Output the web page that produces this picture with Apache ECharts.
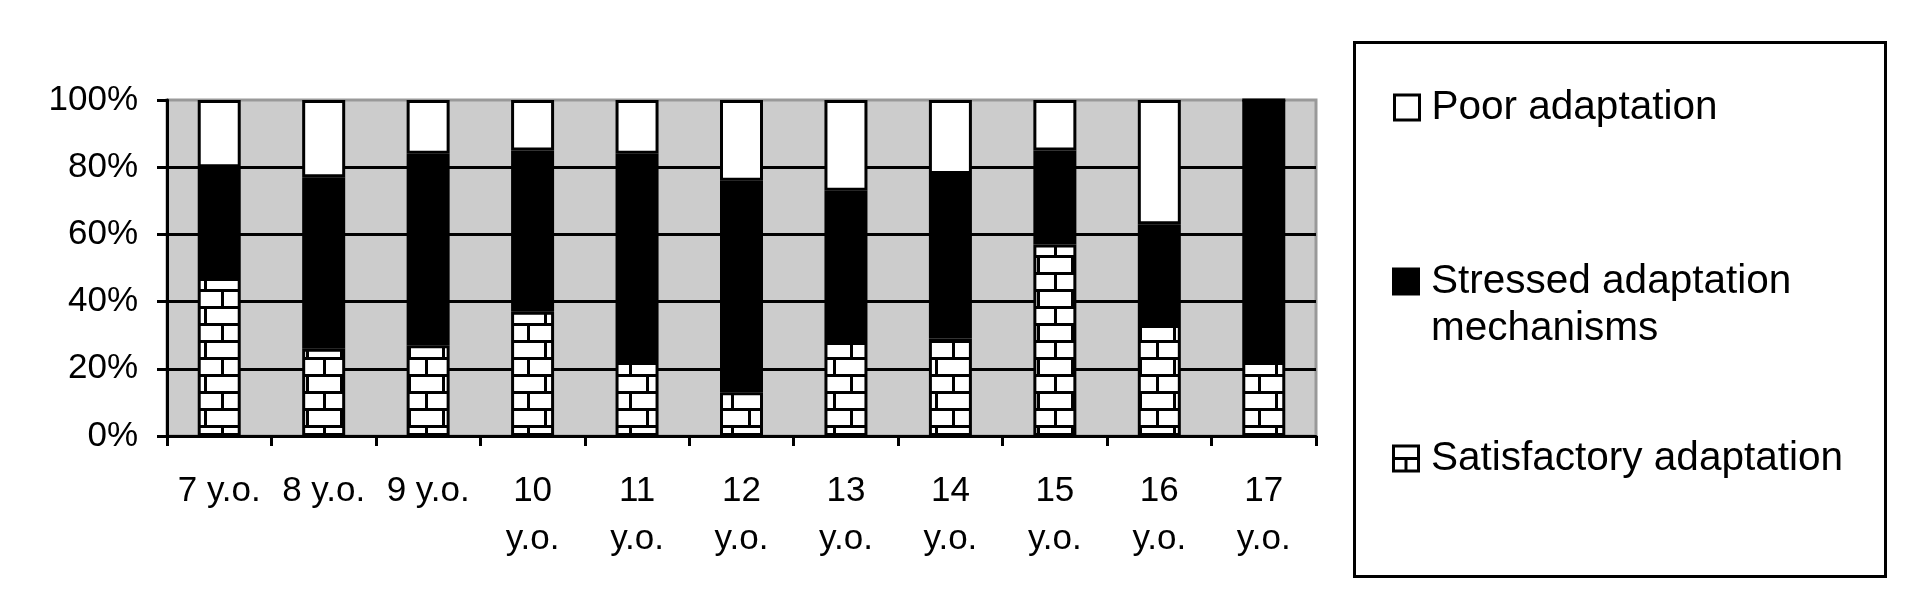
<!DOCTYPE html>
<html>
<head>
<meta charset="utf-8">
<script src="https://cdn.jsdelivr.net/npm/echarts@6/dist/echarts.min.js"></script>
<style>
html,body{margin:0;padding:0;background:#fff;}
#chart{width:1905px;height:600px;}
</style>
</head>
<body>
<div id="chart"></div>
<script>
// ---- data (percent of each age group) ----
const categories = ['7 y.o.', '8 y.o.', '9 y.o.', '10 y.o.', '11 y.o.', '12 y.o.', '13 y.o.', '14 y.o.', '15 y.o.', '16 y.o.', '17 y.o.'];
const satisfactory = [47, 26, 27, 37, 22, 13, 28, 29, 57, 33, 22];
const stressed     = [33, 51, 57, 48, 62, 63, 45, 49, 28, 30, 78];
const poor         = [20, 23, 16, 15, 16, 24, 27, 22, 15, 37, 0];
const seriesNames = ['Poor adaptation', 'Stressed adaptation mechanisms', 'Satisfactory adaptation'];
const yTicks = [0, 20, 40, 60, 80, 100];

const FONT = '"Liberation Sans", Arial, sans-serif';

function brickPattern() {
  const c = document.createElement('canvas');
  c.width = 34; c.height = 34;
  const g = c.getContext('2d');
  g.fillStyle = '#fff'; g.fillRect(0, 0, 34, 34);
  g.fillStyle = '#000';
  g.fillRect(0, 0, 34, 3);
  g.fillRect(0, 17, 34, 3);
  g.fillRect(0, 0, 3, 17);
  g.fillRect(17, 17, 3, 17);
  return c;
}
const brick = { image: brickPattern(), repeat: 'repeat' };

const brickIcon = 'path://M0 0H28V3H0Z M0 25H28V28H0Z M0 0H3V28H0Z M25 0H28V28H25Z M0 12.5H28V15.5H0Z M12.5 14H15.5V28H12.5Z';

const chart = echarts.init(document.getElementById('chart'), null, { renderer: 'canvas' });

const legendText = { fontFamily: FONT, fontSize: 40.5, color: '#000', lineHeight: 47 };

chart.setOption({
  animation: false,
  backgroundColor: '#fff',
  textStyle: { fontFamily: FONT },
  grid: {
    left: 167, right: 589, top: 100, bottom: 164,
    show: true, backgroundColor: '#cccccc', borderColor: '#999999', borderWidth: 3
  },
  graphic: [{
    type: 'rect', left: 1352, top: 40,
    shape: { width: 531, height: 534 },
    style: { fill: 'none', stroke: '#000', lineWidth: 3 },
    z: 100
  }],
  legend: [
    {
      left: 1393, top: 84, padding: 0, orient: 'vertical', selectedMode: false,
      itemWidth: 25, itemHeight: 25,
      textStyle: Object.assign({}, legendText, { padding: [0, 0, 0, 7] }),
      data: [{ name: seriesNames[0], icon: 'rect', itemStyle: { color: '#fff', borderColor: '#000', borderWidth: 3 } }]
    },
    {
      left: 1392, top: 211, padding: 0, orient: 'vertical', selectedMode: false,
      itemWidth: 28, itemHeight: 28,
      formatter: () => '\nStressed adaptation\nmechanisms',
      textStyle: Object.assign({}, legendText, { padding: [0, 0, 0, 6] }),
      data: [{ name: seriesNames[1], icon: 'rect', itemStyle: { color: '#000', borderWidth: 0 } }]
    },
    {
      left: 1392, top: 435, padding: 0, orient: 'vertical', selectedMode: false,
      itemWidth: 28, itemHeight: 28,
      textStyle: Object.assign({}, legendText, { padding: [0, 0, 0, 6] }),
      data: [{ name: seriesNames[2], icon: brickIcon, itemStyle: { color: '#000', borderWidth: 0 } }]
    }
  ],
  xAxis: {
    type: 'category',
    data: categories,
    axisLine: { lineStyle: { color: '#000', width: 3 } },
    axisTick: { show: true, length: 10, lineStyle: { color: '#000', width: 3 } },
    axisLabel: {
      interval: 0, margin: 31, color: '#000', fontFamily: FONT, fontSize: 35, lineHeight: 48,
      formatter: v => v.length > 6 ? v.replace(' ', '\n') : v
    },
    splitLine: { show: false }
  },
  yAxis: {
    type: 'value', min: yTicks[0], max: yTicks[yTicks.length - 1], interval: yTicks[1] - yTicks[0],
    axisLine: { show: true, lineStyle: { color: '#000', width: 3 } },
    axisTick: { show: true, length: 10, lineStyle: { color: '#000', width: 3 } },
    axisLabel: { margin: 29, color: '#000', fontFamily: FONT, fontSize: 35, formatter: '{value}%' },
    splitLine: { show: true, showMinLine: false, showMaxLine: false, lineStyle: { color: '#000', width: 3 } }
  },
  series: [
    {
      name: seriesNames[2], type: 'bar', stack: 'total', barWidth: 43, data: satisfactory,
      itemStyle: { color: brick, borderColor: '#000', borderWidth: 3 }
    },
    {
      name: seriesNames[1], type: 'bar', stack: 'total', barWidth: 43, data: stressed,
      itemStyle: { color: '#000', borderColor: '#000', borderWidth: 3 }
    },
    {
      name: seriesNames[0], type: 'bar', stack: 'total', barWidth: 43, data: poor,
      itemStyle: { color: '#fff', borderColor: '#000', borderWidth: 3 }
    }
  ]
});
</script>
</body>
</html>
